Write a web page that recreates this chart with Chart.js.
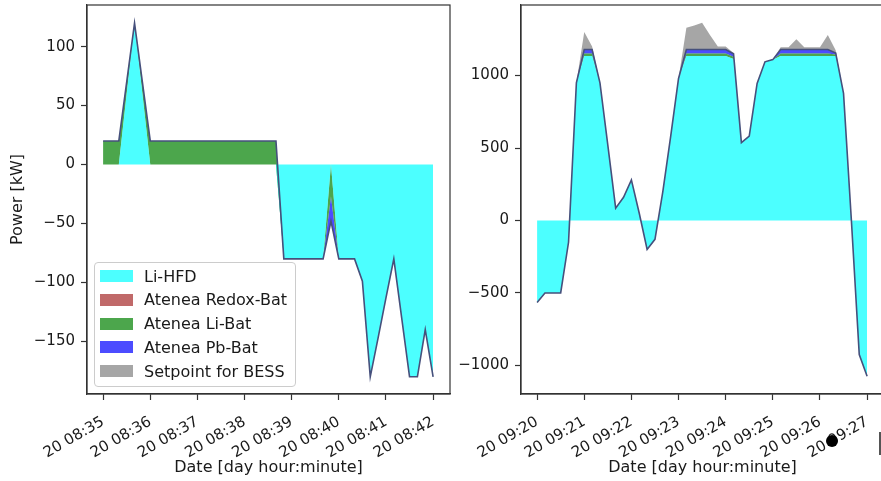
<!DOCTYPE html>
<html>
<head>
<meta charset="utf-8">
<script src="https://cdn.jsdelivr.net/npm/chart.js@4.4.1/dist/chart.umd.min.js"></script>
<style>
html,body{margin:0;padding:0;background:#fff;overflow:hidden;width:881px;height:481px;}
canvas{position:absolute;top:0;}
#c1{left:0;}
#c2{left:455px;}
#legend{position:absolute;left:94px;top:262px;width:202px;height:125px;border:1px solid #cccccc;border-radius:4px;background:rgba(255,255,255,0.8);box-sizing:border-box;font-family:'DejaVu Sans';font-size:16px;color:#1a1a1a;}
.row{position:absolute;left:5px;height:20px;display:flex;align-items:center;white-space:nowrap;}
.sw{width:33px;height:12px;margin-right:11px;}
#dot{position:absolute;left:826px;top:435px;width:12px;height:12px;border-radius:50%;background:#000;}
#bar{position:absolute;left:879px;top:432px;width:2px;height:23px;background:#555;}
</style>
</head>
<body>
<canvas id="c1" width="455" height="481"></canvas>
<canvas id="c2" width="440" height="481"></canvas>
<div id="legend"></div>
<div id="dot"></div>
<div id="bar"></div>
<script>
// ---------- data ----------
const seriesNames = ['Li-HFD', 'Atenea Redox-Bat', 'Atenea Li-Bat', 'Atenea Pb-Bat', 'Setpoint for BESS'];
// seconds after the first tick of each panel, 10 s sampling
const timesSec = [0,10,20,30,40,50,60,70,80,90,100,110,120,130,140,150,160,170,180,190,200,210,220,230,240,250,260,270,280,290,300,310,320,330,340,350,360,370,380,390,400,410,420];

// Left panel (20 08:35 - 20 08:42), kW
const leftLiHFD = [0,0,0,60,120,60,0,0,0,0, 0,0,0,0,0,0,0,0,0,0, 0,0,0,-80,-80,-80,-80,-80,-80,0, -80,-80,-80,-99,-180,-147,-113,-80,-130,-180, -180,-140,-180];
const leftRedox = [0,0,0,0,0,0,0,0,0,0, 0,0,0,0,0,0,0,0,0,0, 0,0,0,0,0,0,0,0,0,0, 0,0,0,0,0,0,0,0,0,0, 0,0,0];
const leftLiBat = [20,20,20,10,0,10,20,20,20,20, 20,20,20,20,20,20,20,20,20,20, 20,20,20,0,0,0,0,0,0,-27, 0,0,0,0,0,0,0,0,0,0, 0,0,0];
const leftPbBat = [0,0,0,0,0,0,0,0,0,0, 0,0,0,0,0,0,0,0,0,0, 0,0,0,0,0,0,0,0,0,-21, 0,0,0,0,0,0,0,0,0,0, 0,0,0];
const leftSetpointExtra = [0,0,0,0,0,0,0,0,0,0, 0,0,0,0,0,0,0,0,0,0, 0,0,0,0,0,0,0,0,0,0, 0,0,0,0,0,0,0,0,0,0, 0,0,0];

// Right panel (20 09:20 - 20 09:27), kW
const rightLiHFD = [-565,-500,-500,-500,-150,950,1135,1135,950,520, 85,160,280,50,-200,-130,200,580,980,1135, 1135,1135,1135,1135,1135,1115,537,583,946,1095, 1110,1135,1135,1135,1135,1135,1135,1135,1135,877, 0,-925,-1074];
const rightRedox = [0,0,0,0,0,0,0,0,0,0, 0,0,0,0,0,0,0,0,0,0, 0,0,0,0,0,0,0,0,0,0, 0,0,0,0,0,0,0,0,0,0, 0,0,0];
const rightLiBat = [0,0,0,0,0,0,18,18,0,0, 0,0,0,0,0,0,0,0,0,18, 18,18,18,18,18,15,0,0,0,0, 0,18,18,18,18,18,18,18,10,0, 0,0,0];
const rightPbBat = [0,0,0,0,0,0,27,27,0,0, 0,0,0,0,0,0,0,0,0,27, 27,27,27,27,27,20,0,0,0,0, 0,27,27,27,27,27,27,27,10,0, 0,0,0];
const rightSetpointExtra = [0,0,0,0,0,0,120,20,0,0, 0,0,0,0,0,0,0,0,0,150, 165,185,100,20,20,5,0,0,0,0, 0,15,15,70,15,15,15,100,20,0, 0,0,0];

// ticks
const xTickSec = [0,60,120,180,240,300,360,420];
const leftXTickLabels = ['20 08:35','20 08:36','20 08:37','20 08:38','20 08:39','20 08:40','20 08:41','20 08:42'];
const rightXTickLabels = ['20 09:20','20 09:21','20 09:22','20 09:23','20 09:24','20 09:25','20 09:26','20 09:27'];
const leftYTicks = [-150,-100,-50,0,50,100];
const rightYTicks = [-1000,-500,0,500,1000];

// ---------- styles ----------
const fillColors = ['rgba(0,255,255,0.7)','rgba(165,42,42,0.7)','rgba(0,128,0,0.7)','rgba(0,0,255,0.7)','rgba(128,128,128,0.7)'];
const edgeColor = '#46507c';
const axisColor = '#333333';
const textColor = '#1a1a1a';
Chart.defaults.font.family = "'DejaVu Sans', sans-serif";
Chart.defaults.color = textColor;

const fmtNum = v => (v < 0 ? '\u2212' + Math.abs(v) : String(v));

const framePlugin = {
  id: 'frame',
  afterDraw(chart) {
    const a = chart.chartArea, ctx = chart.ctx;
    ctx.save();
    ctx.strokeStyle = axisColor;
    ctx.lineWidth = 1.2;
    ctx.strokeRect(a.left, a.top, a.right - a.left, a.bottom - a.top);
    ctx.restore();
  }
};

function buildChart(id, seriesList, xLabels, yTicks, yMin, yMax, yWidth, padRight, yTitle) {
  const datasets = seriesList.map((vals, i) => ({
    label: seriesNames[i],
    data: vals.map((v, k) => ({x: timesSec[k], y: v})),
    backgroundColor: fillColors[i],
    borderColor: i === 3 ? edgeColor : fillColors[i],
    borderWidth: i === 3 ? 1.6 : 0,
    pointRadius: 0,
    tension: 0,
    fill: i === 0 ? 'origin' : '-1'
  }));
  return new Chart(document.getElementById(id), {
    type: 'line',
    data: {datasets},
    plugins: [framePlugin],
    options: {
      responsive: false,
      animation: false,
      events: [],
      layout: {padding: {left: 0, right: padRight, top: 5, bottom: 0}},
      plugins: {legend: {display: false}, tooltip: {enabled: false}, filler: {drawTime: 'beforeDatasetsDraw'}},
      scales: {
        x: {
          type: 'linear', min: -20.5, max: 441.5,
          afterBuildTicks: s => { s.ticks = xTickSec.map(v => ({value: v})); },
          afterFit: s => { s.height = 87; s.paddingLeft = 0; s.paddingRight = 0; },
          ticks: {autoSkip: false, minRotation: 30, maxRotation: 30, padding: 13,
                  font: {size: 15}, color: textColor,
                  callback: (v, i) => xLabels[i]},
          grid: {drawOnChartArea: false, drawTicks: true, tickLength: 6, color: axisColor, tickWidth: 1.2},
          border: {display: true, color: axisColor, width: 1.2},
          title: {display: true, text: 'Date [day hour:minute]', font: {size: 16}, color: textColor, padding: {top: 0, bottom: 4}}
        },
        y: {
          type: 'linear', stacked: 'single', min: yMin, max: yMax,
          afterBuildTicks: s => { s.ticks = yTicks.map(v => ({value: v})); },
          afterFit: s => { s.width = yWidth; s.paddingTop = 0; s.paddingBottom = 0; },
          ticks: {padding: 6, font: {size: 15}, color: textColor, callback: v => fmtNum(v)},
          grid: {drawOnChartArea: false, drawTicks: true, tickLength: 6, color: axisColor, tickWidth: 1.2},
          border: {display: true, color: axisColor, width: 1.2},
          title: {display: !!yTitle, text: yTitle || '', font: {size: 16}, color: textColor, padding: {top: 8, bottom: 0}}
        }
      }
    }
  });
}

buildChart('c1', [leftLiHFD, leftRedox, leftLiBat, leftPbBat, leftSetpointExtra], leftXTickLabels, leftYTicks, -194.6, 135.3, 87, 5, 'Power [kW]');
buildChart('c2', [rightLiHFD, rightRedox, rightLiBat, rightPbBat, rightSetpointExtra], rightXTickLabels, rightYTicks, -1197, 1487, 66, 11, '');

// legend (matplotlib style, inside left axes)
const lg = document.getElementById('legend');
seriesNames.forEach((name, i) => {
  const row = document.createElement('div');
  row.className = 'row';
  row.style.top = (3 + i * 23.8) + 'px';
  const sw = document.createElement('div');
  sw.className = 'sw';
  sw.style.background = fillColors[i];
  const tx = document.createElement('span');
  tx.textContent = name;
  row.appendChild(sw); row.appendChild(tx);
  lg.appendChild(row);
});
</script>
</body>
</html>
